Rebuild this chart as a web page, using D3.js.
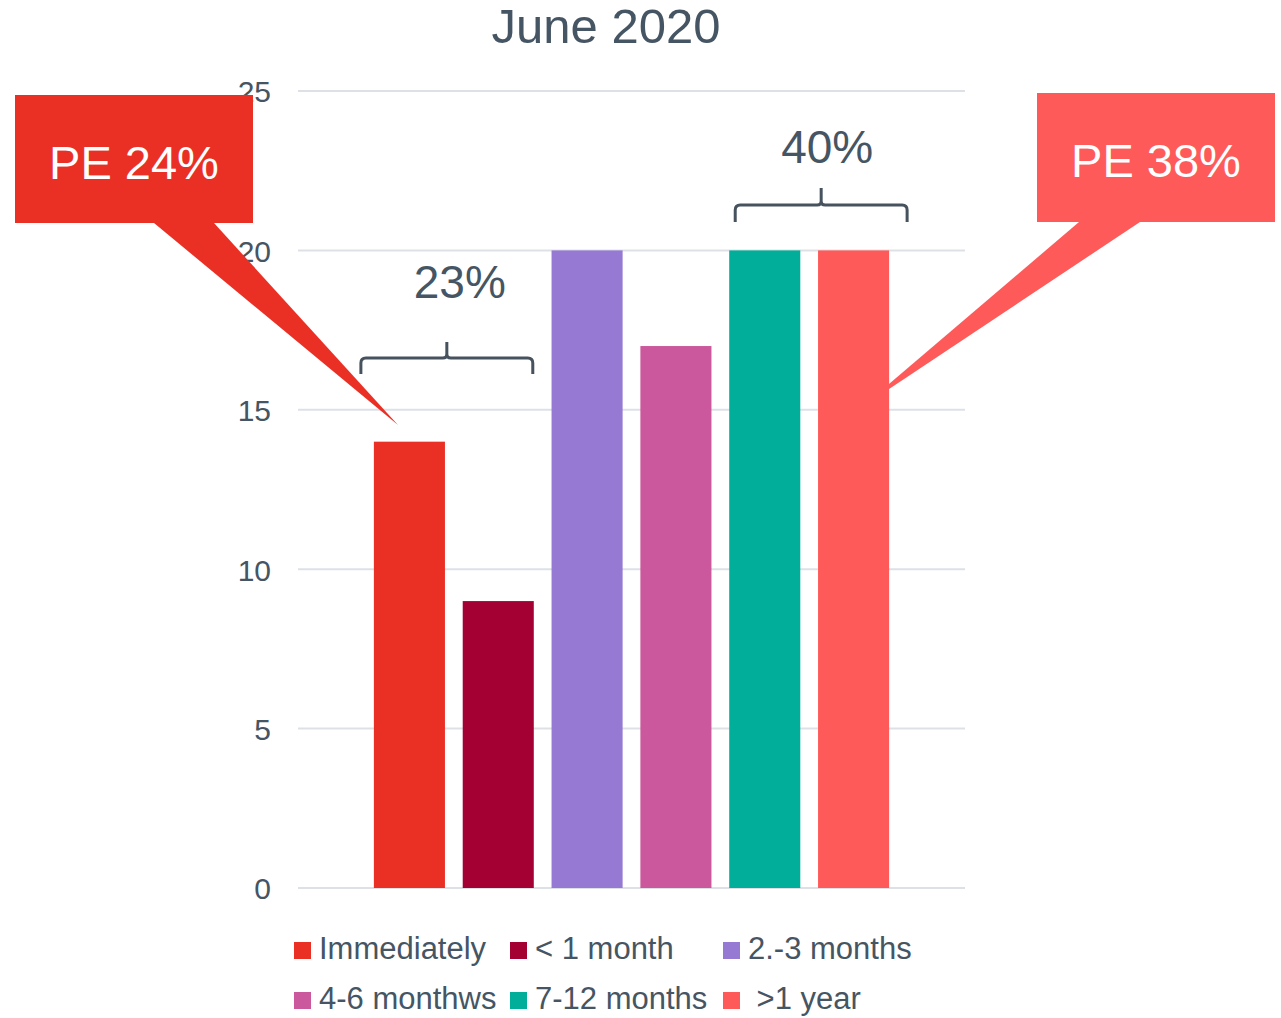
<!DOCTYPE html>
<html>
<head>
<meta charset="utf-8">
<script src="https://cdn.jsdelivr.net/npm/d3@7"></script>
<style>
  html, body { margin: 0; padding: 0; background: #ffffff; }
  svg { display: block; font-family: "Liberation Sans", Arial, sans-serif; }
  .legend text { white-space: pre; }
</style>
</head>
<body>
<svg id="chart" width="1281" height="1018"></svg>
<script>
// Time until return, June 2020
const title = "June 2020";
const categories = ["Immediately", "< 1 month", "2.-3 months", "4-6 monthws", "7-12 months", " >1 year"];
const values = [14, 9, 20, 17, 20, 20];
const colors = ["#EA3025", "#A50034", "#9679D2", "#CB589C", "#00AE9A", "#FF5A5A"];
const yTicks = [0, 5, 10, 15, 20, 25];

// Grouped shares shown above brackets, and the PE callouts
const groupLabels = ["23%", "40%"];
const calloutLabels = ["PE 24%", "PE 38%"];

const textColor = "#465563";
const svg = d3.select("#chart");

const x = d3.scaleBand()
  .domain(categories)
  .range([365, 898])
  .paddingInner(0.2)
  .paddingOuter(0.1);

const y = d3.scaleLinear()
  .domain([0, 25])
  .range([888, 91]);

// Title
svg.append("text")
  .attr("x", 606)
  .attr("y", 43)
  .attr("text-anchor", "middle")
  .attr("font-size", 49)
  .attr("fill", textColor)
  .text(title);

// Gridlines
svg.append("g")
  .selectAll("line")
  .data(yTicks)
  .join("line")
  .attr("x1", 298)
  .attr("x2", 965)
  .attr("y1", d => y(d))
  .attr("y2", d => y(d))
  .attr("stroke", "#dde1e6")
  .attr("stroke-width", 2);

// Y axis labels
const yAxis = d3.axisLeft(y).tickValues(yTicks).tickSize(0).tickPadding(0);
const yg = svg.append("g")
  .attr("transform", "translate(271,0)")
  .call(yAxis);
yg.select(".domain").remove();
yg.selectAll("text")
  .attr("font-family", "'Liberation Sans', Arial, sans-serif")
  .attr("font-size", 30)
  .attr("fill", textColor)
  .attr("dy", "0.36em");

// Callouts (drawn beneath the bars)
const callouts = [
  { label: calloutLabels[0], color: colors[0], rect: [15, 95, 238, 128],
    pointer: [[154, 223], [214, 223], [398, 425]], base: 179 },
  { label: calloutLabels[1], color: colors[5], rect: [1037, 93, 238, 129],
    pointer: [[1079, 222], [1140, 222], [862, 407]], base: 177 }
];
const cg = svg.append("g");
callouts.forEach(c => {
  cg.append("polygon")
    .attr("points", c.pointer.map(p => p.join(",")).join(" "))
    .attr("fill", c.color);
  cg.append("rect")
    .attr("x", c.rect[0]).attr("y", c.rect[1])
    .attr("width", c.rect[2]).attr("height", c.rect[3])
    .attr("fill", c.color);
  cg.append("text")
    .attr("x", c.rect[0] + c.rect[2] / 2)
    .attr("y", c.base)
    .attr("text-anchor", "middle")
    .attr("font-size", 47)
    .attr("fill", "#ffffff")
    .text(c.label);
});

// Bars
svg.append("g")
  .selectAll("rect")
  .data(values)
  .join("rect")
  .attr("x", (d, i) => x(categories[i]))
  .attr("y", d => y(d))
  .attr("width", x.bandwidth())
  .attr("height", d => y(0) - y(d))
  .attr("fill", (d, i) => colors[i]);

// Brackets grouping bars
function bracePath(x0, x1, yLine, yEnd, ySpike) {
  const mid = (x0 + x1) / 2, r = 5, s = 4;
  return `M${x0},${yEnd} V${yLine + r} Q${x0},${yLine} ${x0 + r},${yLine} H${mid - s} ` +
         `Q${mid},${yLine} ${mid},${yLine - s} V${ySpike} ` +
         `M${mid},${yLine - s} Q${mid},${yLine} ${mid + s},${yLine} H${x1 - r} ` +
         `Q${x1},${yLine} ${x1},${yLine + r} V${yEnd}`;
}
const braces = [
  { from: 0, to: 1, padL: 13, padR: -1, yLine: 358, yEnd: 374, ySpike: 342, label: groupLabels[0], base: 298, dx: 13 },
  { from: 4, to: 5, padL: -6, padR: 18, yLine: 205, yEnd: 222, ySpike: 188, label: groupLabels[1], base: 163, dx: 6 }
];
braces.forEach(b => {
  const x0 = x(categories[b.from]) - b.padL;
  const x1 = x(categories[b.to]) + x.bandwidth() + b.padR;
  svg.append("path")
    .attr("d", bracePath(x0, x1, b.yLine, b.yEnd, b.ySpike))
    .attr("fill", "none")
    .attr("stroke", "#46535f")
    .attr("stroke-width", 3);
  svg.append("text")
    .attr("x", (x0 + x1) / 2 + b.dx)
    .attr("y", b.base)
    .attr("text-anchor", "middle")
    .attr("font-size", 46)
    .attr("fill", textColor)
    .text(b.label);
});

// Legend
const legendCols = [294, 510, 723];
const legendRows = [959, 1009];
const lg = svg.append("g").attr("class", "legend");
categories.forEach((c, i) => {
  const col = i % 3, row = Math.floor(i / 3);
  const lx = legendCols[col], ly = legendRows[row];
  lg.append("rect")
    .attr("x", lx).attr("y", ly - 17)
    .attr("width", 17).attr("height", 17)
    .attr("fill", colors[i]);
  lg.append("text")
    .attr("x", lx + 25)
    .attr("y", ly)
    .attr("font-size", 31)
    .attr("fill", textColor)
    .text(c);
});
</script>
</body>
</html>
